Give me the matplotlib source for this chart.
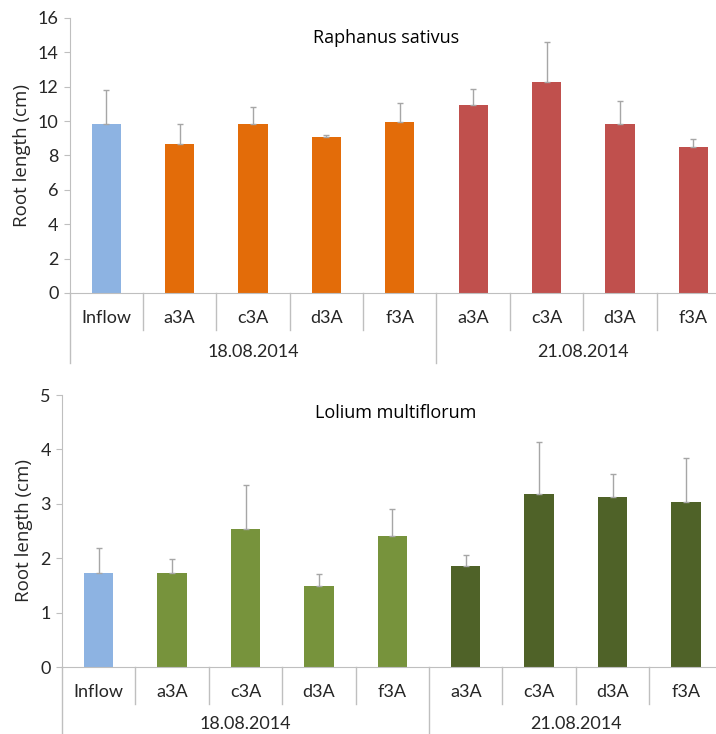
import matplotlib
matplotlib.use("Agg")
import matplotlib.pyplot as plt
from matplotlib.transforms import blended_transform_factory
import numpy as np

categories = ["Inflow", "a3A", "c3A", "d3A", "f3A", "a3A", "c3A", "d3A", "f3A"]
groups = ["18.08.2014", "21.08.2014"]
group_sizes = [5, 4]

raph_mean = [9.85, 8.65, 9.85, 9.05, 9.95, 10.95, 12.25, 9.85, 8.5]
raph_sd = [1.95, 1.2, 1.0, 0.15, 1.1, 0.9, 2.35, 1.3, 0.45]
raph_colors = ["#8DB3E2"] + ["#E36C09"] * 4 + ["#C0504D"] * 4

lol_mean = [1.72, 1.72, 2.53, 1.48, 2.41, 1.85, 3.18, 3.12, 3.04]
lol_sd = [0.46, 0.27, 0.81, 0.23, 0.5, 0.2, 0.95, 0.43, 0.8]
lol_colors = ["#8DB3E2"] + ["#77933C"] * 4 + ["#4F6228"] * 4

W, H = 716, 734
fig = plt.figure(figsize=(W / 100, H / 100), dpi=100)

lab_font = ["Lato", "DejaVu Sans"]
axcol = "#BFBFBF"
txtcol = "#262626"


def make_panel(left_px, top_px, bottom_px, means, sds, colors, ymax, ystep, title,
               title_x_px, title_y_px, short_px, long_px, cat_y_px, grp_y_px):
    cat_w = 73.4
    width_px = cat_w * len(categories)
    ax = fig.add_axes([left_px / W, 1 - bottom_px / H, width_px / W, (bottom_px - top_px) / H])
    x = np.arange(len(categories))
    ax.bar(x, means, width=0.4, color=colors, zorder=2)
    ax.errorbar(x, means, yerr=[np.zeros(len(sds)), sds], fmt="none", ecolor="#A6A6A6",
                elinewidth=1, capsize=2.5, capthick=1, zorder=3)
    ax.set_xlim(-0.5, len(categories) - 0.5)
    ax.set_ylim(0, ymax)
    ax.set_yticks(np.arange(0, ymax + 0.01, ystep))
    ax.tick_params(axis="y", length=4, color=axcol, labelsize=13, labelcolor=txtcol, pad=4)
    for t in ax.get_yticklabels():
        t.set_family(lab_font)
    ax.set_xticks([])
    for s in ["top", "right"]:
        ax.spines[s].set_visible(False)
    ax.spines["left"].set_color(axcol)
    ax.spines["bottom"].set_color(axcol)
    ax.set_ylabel("Root length (cm)", fontsize=13.5, color=txtcol,
                  family=["Open Sans", "DejaVu Sans"], labelpad=5)
    ax.patch.set_visible(False)

    h_px = bottom_px - top_px
    tr = blended_transform_factory(ax.transData, ax.transAxes)
    boundaries = np.cumsum([0] + group_sizes) - 0.5
    for i, c in enumerate(categories):
        ax.text(i, -(cat_y_px - bottom_px) / h_px, c, transform=tr, ha="center", va="center",
                fontsize=13, color=txtcol, family=lab_font)
    for b in np.arange(-0.5, len(categories) - 0.4, 1.0):
        is_long = any(abs(b - gb) < 1e-6 for gb in boundaries[:-1])
        ln = long_px if is_long else short_px
        ax.plot([b, b], [0, -(ln - bottom_px) / h_px], transform=tr, color=axcol, lw=1,
                clip_on=False, zorder=1)
    for gi, g in enumerate(groups):
        cx = (boundaries[gi] + boundaries[gi + 1]) / 2
        ax.text(cx, -(grp_y_px - bottom_px) / h_px, g, transform=tr, ha="center", va="center",
                fontsize=13, color=txtcol, family=lab_font)
    fig.text(title_x_px / W, 1 - title_y_px / H, title, ha="center", va="center",
             fontsize=13, color="#000000", family=["Open Sans", "DejaVu Sans"])
    return ax


make_panel(69.5, 18, 293, raph_mean, raph_sd, raph_colors, 16, 2, "Raphanus sativus",
           386, 38, 330, 363, 318, 352)
make_panel(62, 395, 667, lol_mean, lol_sd, lol_colors, 5, 1, "Lolium multiflorum",
           396, 413, 704, 740, 692, 724)

fig.savefig("out.png", dpi=100)
